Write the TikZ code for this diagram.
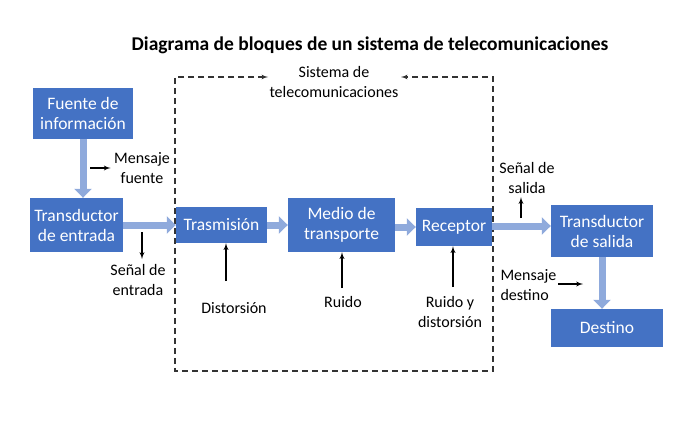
\documentclass[tikz,border=0pt]{standalone}
\usepackage{fontspec}
\setmainfont{Carlito}
\usepackage{tikz}
\usetikzlibrary{shapes,arrows,arrows.meta}
\definecolor{bloque}{RGB}{68,114,196}
\definecolor{flujo}{RGB}{143,170,220}
\tikzstyle{block} = [rectangle, fill=bloque, text=white, %draw,
    align=center, font=\fontsize{17.5}{20}\selectfont, inner sep=0pt]
\tikzstyle{line} = [draw, line width=1.3pt, -latex']
\tikzstyle{thick line} = [draw=flujo, line width=7pt,
    -{Triangle[length=9pt,width=17pt]}]
\tikzstyle{label} = [align=center, font=\fontsize{16}{20}\selectfont]

\begin{document}
\begin{tikzpicture}[x=1pt, y=-1pt]
    \useasboundingbox (0,0) rectangle (700,420);
    \node [font=\bfseries\fontsize{19.5}{22}\selectfont] (title) at (370,45)
        {Diagrama de bloques de un sistema de telecomunicaciones};
    % bloques
    \node [block, minimum width=100pt, minimum height=51pt] (fuente) at (83,113.5) {Fuente de\\información};
    \node [block, minimum width=93pt, minimum height=54pt] (tin) at (76.5,225) {Transductor\\de entrada};
    \node [block, minimum width=91pt, minimum height=36pt] (tx) at (221.5,225) {Trasmisión};
    \node [block, minimum width=107pt, minimum height=54pt] (medio) at (341.5,225) {Medio de\\transporte};
    \node [block, minimum width=76pt, minimum height=38pt] (rx) at (454,227) {Receptor};
    \node [block, minimum width=102pt, minimum height=52pt] (tout) at (602,231) {Transductor\\de salida};
    \node [block, minimum width=112pt, minimum height=38pt] (destino) at (607,328) {Destino};
    % sistema
    \node [label] (sistema) at (334,82) {Sistema de\\telecomunicaciones};
    \draw [dashed, draw=black!80, line width=1.2pt, dash pattern=on 6pt off 4pt, <->, >=latex'] (268,77) -- (175,77) -- (175,371)
        -- (493,371) -- (493,77) -- (401,77);
    % flujo de la senal
    \path [thick line] (fuente.south) -- (fuente.south |- tin.north);
    \path [thick line] (tin.east) -- (tx.west);
    \path [thick line] (tx.east) -- (tx.east -| medio.west);
    \path [thick line] (medio.east |- rx.west) -- (rx.west);
    \path [thick line] (rx.east |- 0,226) -- (tout.west |- 0,226);
    \path [thick line] (tout.south) -- (tout.south |- destino.north);
    % etiquetas
    \node [label] (mfuente) at (142,168) {Mensaje\\fuente};
    \coordinate (mf1) at (90,168);
    \path [line] (mf1) -- (mfuente.west);
    \node [label] (sentrada) at (138,280) {Señal de\\entrada};
    \coordinate (se1) at (142,232);
    \path [line] (se1) -- (142,259);
    \node [label] (dist) at (234,308) {Distorsión};
    \coordinate (d1) at (226,281);
    \path [line] (d1) -- (d1 |- tx.south);
    \node [label] (ruido) at (343,302) {Ruido};
    \coordinate (r1) at (342,288);
    \path [line] (r1) -- (r1 |- medio.south);
    \node [label] (rdist) at (450,312) {Ruido y\\distorsión};
    \coordinate (rd1) at (453,287);
    \path [line] (rd1) -- (rd1 |- rx.south);
    \node [label] (ssalida) at (527,178) {Señal de\\salida};
    \coordinate (ss1) at (521,218);
    \path [line] (ss1) -- (ssalida.south -| ss1);
    \node [label, align=left, anchor=west] (mdestino) at (497,285) {Mensaje\\destino};
    \coordinate (md1) at (583,284);
    \path [line] (558,284) -- (md1);
\end{tikzpicture}
\end{document}
